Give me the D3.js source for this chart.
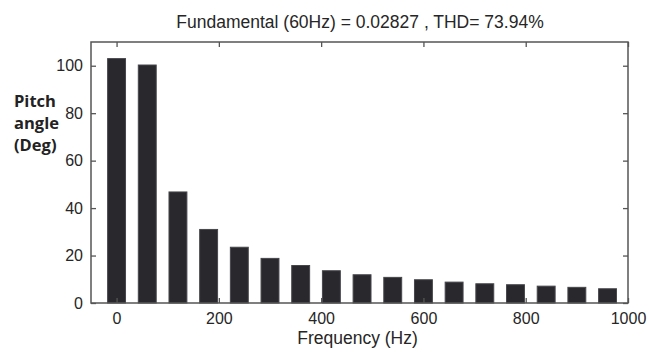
<!DOCTYPE html>
<html>
<head>
<meta charset="utf-8">
<script src="https://cdn.jsdelivr.net/npm/d3@7/dist/d3.min.js"></script>
<style>
  html, body { margin: 0; padding: 0; background: #fff; }
  svg { display: block; }
</style>
</head>
<body>
<svg id="chart" width="649" height="352"></svg>
<script>
// Harmonic spectrum of the pitch angle: one bar every 60 Hz
const frequencies = [0, 60, 120, 180, 240, 300, 360, 420, 480, 540, 600, 660, 720, 780, 840, 900, 960];
const magnitudes = [103, 100.3, 46.8, 31.0, 23.5, 18.8, 15.8, 13.6, 11.9, 10.8, 9.8, 8.8, 8.1, 7.7, 7.1, 6.6, 6.0];
const xTicks = [0, 200, 400, 600, 800, 1000];
const yTicks = [0, 20, 40, 60, 80, 100];
const titleText = "Fundamental (60Hz) = 0.02827 , THD= 73.94%";
const xLabel = "Frequency (Hz)";
const yLabelLines = ["Pitch", "angle", "(Deg)"];

const svg = d3.select("#chart");
const plot = { left: 91, right: 628, top: 42, bottom: 303 };

const x = d3.scaleLinear().domain([-50, 1000]).range([plot.left, plot.right]);
const y = d3.scaleLinear().domain([0, 110]).range([plot.bottom, plot.top]);
const barWidth = x(35) - x(0);

const font = "'Liberation Sans', Arial, sans-serif";
const frameColor = "#555";
const textColor = "#262626";

// Bars
svg.append("g")
  .selectAll("rect")
  .data(frequencies)
  .join("rect")
  .attr("x", (d) => x(d) - barWidth / 2)
  .attr("y", (d, i) => y(magnitudes[i]))
  .attr("width", barWidth)
  .attr("height", (d, i) => y(0) - y(magnitudes[i]))
  .attr("fill", "#28282d")
  .attr("stroke", "#46464b")
  .attr("stroke-width", 1);

// Axes with inward ticks on all four sides
const tickLen = 5;
const axisStyle = (g) => {
  g.select(".domain").remove();
  g.selectAll(".tick line").attr("stroke", frameColor).attr("stroke-width", 1.3);
  g.selectAll(".tick text")
    .attr("fill", textColor)
    .style("font-family", font)
    .style("font-size", "16px");
};

svg.append("g")
  .attr("transform", `translate(0,${plot.bottom})`)
  .call(d3.axisBottom(x).tickValues(xTicks).tickFormat(d3.format("d")).tickSizeInner(-tickLen).tickSizeOuter(0).tickPadding(10))
  .call(axisStyle);

svg.append("g")
  .attr("transform", `translate(0,${plot.top})`)
  .call(d3.axisTop(x).tickValues(xTicks).tickFormat("").tickSizeInner(-tickLen).tickSizeOuter(0))
  .call(axisStyle);

svg.append("g")
  .attr("transform", `translate(${plot.left},0)`)
  .call(d3.axisLeft(y).tickValues(yTicks).tickFormat(d3.format("d")).tickSizeInner(-tickLen).tickSizeOuter(0).tickPadding(8))
  .call(axisStyle);

svg.append("g")
  .attr("transform", `translate(${plot.right},0)`)
  .call(d3.axisRight(y).tickValues(yTicks).tickFormat("").tickSizeInner(-tickLen).tickSizeOuter(0))
  .call(axisStyle);

// Frame
svg.append("rect")
  .attr("x", plot.left)
  .attr("y", plot.top)
  .attr("width", plot.right - plot.left)
  .attr("height", plot.bottom - plot.top)
  .attr("fill", "none")
  .attr("stroke", frameColor)
  .attr("stroke-width", 1.5);

// Title
svg.append("text")
  .attr("x", 360)
  .attr("y", 28)
  .attr("text-anchor", "middle")
  .attr("fill", textColor)
  .style("font-family", font)
  .style("font-size", "17.5px")
  .text(titleText);

// X axis label
svg.append("text")
  .attr("x", 357.5)
  .attr("y", 344)
  .attr("text-anchor", "middle")
  .attr("fill", textColor)
  .style("font-family", font)
  .style("font-size", "17.5px")
  .text(xLabel);

// Y axis label, three stacked bold lines
svg.append("g")
  .selectAll("text")
  .data(yLabelLines)
  .join("text")
  .attr("x", 14)
  .attr("y", (d, i) => 107 + i * 22)
  .attr("fill", "#222")
  .style("font-family", "'Open Sans', sans-serif")
  .style("font-weight", "bold")
  .style("font-size", "16.5px")
  .text((d) => d);
</script>
</body>
</html>
